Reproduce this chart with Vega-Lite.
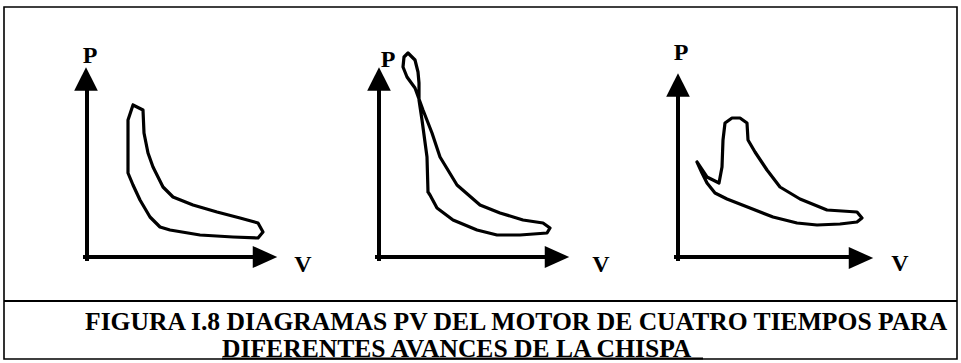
{
  "$schema": "https://vega.github.io/schema/vega-lite/v6.json",
  "width": 961,
  "height": 363,
  "padding": 0,
  "autosize": {"type": "none"},
  "background": "white",
  "config": {"view": {"stroke": null}},
  "datasets": {
    "frame": [{"x": 4, "y": 7, "x2": 957, "y2": 359}],
    "separator": [{"x": 4, "y": 301, "x2": 957, "y2": 301}, {"x": 222, "y": 358.5, "x2": 703, "y2": 358.5}],
    "axes": [
      {"x": 87, "y": 259, "x2": 87, "y2": 82},
      {"x": 85, "y": 257, "x2": 262, "y2": 257},
      {"x": 379, "y": 259, "x2": 379, "y2": 82},
      {"x": 377, "y": 257, "x2": 555, "y2": 257},
      {"x": 678, "y": 259, "x2": 678, "y2": 88},
      {"x": 676, "y": 257, "x2": 860, "y2": 257}
    ],
    "arrowUp": [{"x": 86, "y": 79}, {"x": 379, "y": 79}, {"x": 678, "y": 85}],
    "arrowRight": [{"x": 265, "y": 257}, {"x": 557, "y": 257}, {"x": 861, "y": 258}],
    "cycles": [
      {"panel": 1, "i": 0, "v": 133, "p": 105},
      {"panel": 1, "i": 1, "v": 143, "p": 110},
      {"panel": 1, "i": 2, "v": 144, "p": 133},
      {"panel": 1, "i": 3, "v": 148, "p": 153},
      {"panel": 1, "i": 4, "v": 153, "p": 167},
      {"panel": 1, "i": 5, "v": 163, "p": 187},
      {"panel": 1, "i": 6, "v": 173, "p": 197},
      {"panel": 1, "i": 7, "v": 193, "p": 205},
      {"panel": 1, "i": 8, "v": 217, "p": 212},
      {"panel": 1, "i": 9, "v": 240, "p": 218},
      {"panel": 1, "i": 10, "v": 258, "p": 223},
      {"panel": 1, "i": 11, "v": 263, "p": 232},
      {"panel": 1, "i": 12, "v": 258, "p": 238},
      {"panel": 1, "i": 13, "v": 233, "p": 237},
      {"panel": 1, "i": 14, "v": 200, "p": 235},
      {"panel": 1, "i": 15, "v": 170, "p": 230},
      {"panel": 1, "i": 16, "v": 160, "p": 227},
      {"panel": 1, "i": 17, "v": 150, "p": 217},
      {"panel": 1, "i": 18, "v": 140, "p": 200},
      {"panel": 1, "i": 19, "v": 133, "p": 185},
      {"panel": 1, "i": 20, "v": 128, "p": 173},
      {"panel": 1, "i": 21, "v": 128, "p": 150},
      {"panel": 1, "i": 22, "v": 128, "p": 120},
      {"panel": 1, "i": 23, "v": 133, "p": 105},

      {"panel": 2, "i": 0, "v": 428, "p": 192},
      {"panel": 2, "i": 1, "v": 427, "p": 157},
      {"panel": 2, "i": 2, "v": 422, "p": 120},
      {"panel": 2, "i": 3, "v": 419, "p": 100},
      {"panel": 2, "i": 4, "v": 419, "p": 83},
      {"panel": 2, "i": 5, "v": 418, "p": 72},
      {"panel": 2, "i": 6, "v": 415, "p": 60},
      {"panel": 2, "i": 7, "v": 408, "p": 53},
      {"panel": 2, "i": 8, "v": 404, "p": 57},
      {"panel": 2, "i": 9, "v": 403, "p": 67},
      {"panel": 2, "i": 10, "v": 407, "p": 77},
      {"panel": 2, "i": 11, "v": 415, "p": 88},
      {"panel": 2, "i": 12, "v": 423, "p": 110},
      {"panel": 2, "i": 13, "v": 432, "p": 133},
      {"panel": 2, "i": 14, "v": 440, "p": 157},
      {"panel": 2, "i": 15, "v": 457, "p": 185},
      {"panel": 2, "i": 16, "v": 480, "p": 205},
      {"panel": 2, "i": 17, "v": 500, "p": 213},
      {"panel": 2, "i": 18, "v": 523, "p": 220},
      {"panel": 2, "i": 19, "v": 543, "p": 223},
      {"panel": 2, "i": 20, "v": 550, "p": 228},
      {"panel": 2, "i": 21, "v": 547, "p": 233},
      {"panel": 2, "i": 22, "v": 520, "p": 235},
      {"panel": 2, "i": 23, "v": 497, "p": 235},
      {"panel": 2, "i": 24, "v": 477, "p": 230},
      {"panel": 2, "i": 25, "v": 453, "p": 220},
      {"panel": 2, "i": 26, "v": 437, "p": 208},
      {"panel": 2, "i": 27, "v": 430, "p": 195},
      {"panel": 2, "i": 28, "v": 428, "p": 192},

      {"panel": 3, "i": 0, "v": 697, "p": 162},
      {"panel": 3, "i": 1, "v": 707, "p": 177},
      {"panel": 3, "i": 2, "v": 719, "p": 183},
      {"panel": 3, "i": 3, "v": 722, "p": 167},
      {"panel": 3, "i": 4, "v": 723, "p": 140},
      {"panel": 3, "i": 5, "v": 725, "p": 123},
      {"panel": 3, "i": 6, "v": 732, "p": 118},
      {"panel": 3, "i": 7, "v": 740, "p": 118},
      {"panel": 3, "i": 8, "v": 747, "p": 123},
      {"panel": 3, "i": 9, "v": 748, "p": 140},
      {"panel": 3, "i": 10, "v": 755, "p": 152},
      {"panel": 3, "i": 11, "v": 767, "p": 170},
      {"panel": 3, "i": 12, "v": 780, "p": 187},
      {"panel": 3, "i": 13, "v": 800, "p": 199},
      {"panel": 3, "i": 14, "v": 827, "p": 210},
      {"panel": 3, "i": 15, "v": 857, "p": 212},
      {"panel": 3, "i": 16, "v": 862, "p": 218},
      {"panel": 3, "i": 17, "v": 857, "p": 222},
      {"panel": 3, "i": 18, "v": 840, "p": 224},
      {"panel": 3, "i": 19, "v": 817, "p": 225},
      {"panel": 3, "i": 20, "v": 797, "p": 223},
      {"panel": 3, "i": 21, "v": 773, "p": 217},
      {"panel": 3, "i": 22, "v": 750, "p": 208},
      {"panel": 3, "i": 23, "v": 727, "p": 199},
      {"panel": 3, "i": 24, "v": 715, "p": 193},
      {"panel": 3, "i": 25, "v": 707, "p": 183},
      {"panel": 3, "i": 26, "v": 702, "p": 173},
      {"panel": 3, "i": 27, "v": 697, "p": 162}
    ],
    "labels": [
      {"x": 90, "y": 63, "t": "P"},
      {"x": 303, "y": 272, "t": "V"},
      {"x": 388, "y": 67, "t": "P"},
      {"x": 601, "y": 272, "t": "V"},
      {"x": 681, "y": 60, "t": "P"},
      {"x": 900, "y": 271, "t": "V"}
    ],
    "caption": [
      {"x": 85, "y": 330, "t": "FIGURA I.8 DIAGRAMAS PV DEL MOTOR DE CUATRO TIEMPOS PARA"},
      {"x": 222, "y": 357, "t": "DIFERENTES AVANCES DE LA CHISPA"}
    ]
  },
  "layer": [
    {
      "data": {"name": "frame"},
      "mark": {"type": "rect", "filled": false, "stroke": "black", "strokeWidth": 1.6},
      "encoding": {
        "x": {"field": "x", "type": "quantitative", "scale": {"domain": [0, 961], "nice": false, "zero": false}, "axis": null},
        "y": {"field": "y", "type": "quantitative", "scale": {"domain": [0, 363], "nice": false, "zero": false, "reverse": true}, "axis": null},
        "x2": {"field": "x2"},
        "y2": {"field": "y2"}
      }
    },
    {
      "data": {"name": "separator"},
      "mark": {"type": "rule", "stroke": "black", "strokeWidth": 1.8},
      "encoding": {
        "x": {"field": "x", "type": "quantitative", "scale": {"domain": [0, 961], "nice": false, "zero": false}, "axis": null},
        "y": {"field": "y", "type": "quantitative", "scale": {"domain": [0, 363], "nice": false, "zero": false, "reverse": true}, "axis": null},
        "x2": {"field": "x2"},
        "y2": {"field": "y2"}
      }
    },
    {
      "data": {"name": "axes"},
      "mark": {"type": "rule", "stroke": "black", "strokeWidth": 4, "strokeCap": "square"},
      "encoding": {
        "x": {"field": "x", "type": "quantitative", "scale": {"domain": [0, 961], "nice": false, "zero": false}, "axis": null},
        "y": {"field": "y", "type": "quantitative", "scale": {"domain": [0, 363], "nice": false, "zero": false, "reverse": true}, "axis": null},
        "x2": {"field": "x2"},
        "y2": {"field": "y2"}
      }
    },
    {
      "data": {"name": "arrowUp"},
      "mark": {"type": "point", "shape": "M0,-1L1,1L-1,1Z", "size": 560, "filled": true, "color": "black", "opacity": 1, "strokeWidth": 0},
      "encoding": {
        "x": {"field": "x", "type": "quantitative", "scale": {"domain": [0, 961], "nice": false, "zero": false}, "axis": null},
        "y": {"field": "y", "type": "quantitative", "scale": {"domain": [0, 363], "nice": false, "zero": false, "reverse": true}, "axis": null}
      }
    },
    {
      "data": {"name": "arrowRight"},
      "mark": {"type": "point", "shape": "M1,0L-1,0.9L-1,-0.9Z", "size": 600, "filled": true, "color": "black", "opacity": 1, "strokeWidth": 0},
      "encoding": {
        "x": {"field": "x", "type": "quantitative", "scale": {"domain": [0, 961], "nice": false, "zero": false}, "axis": null},
        "y": {"field": "y", "type": "quantitative", "scale": {"domain": [0, 363], "nice": false, "zero": false, "reverse": true}, "axis": null}
      }
    },
    {
      "data": {"name": "cycles"},
      "mark": {"type": "line", "stroke": "black", "strokeWidth": 3.2, "strokeJoin": "round", "strokeCap": "round"},
      "encoding": {
        "x": {"field": "v", "type": "quantitative", "scale": {"domain": [0, 961], "nice": false, "zero": false}, "axis": null},
        "y": {"field": "p", "type": "quantitative", "scale": {"domain": [0, 363], "nice": false, "zero": false, "reverse": true}, "axis": null},
        "detail": {"field": "panel", "type": "nominal"},
        "order": {"field": "i", "type": "quantitative"}
      }
    },
    {
      "data": {"name": "labels"},
      "mark": {"type": "text", "font": "Liberation Serif, DejaVu Serif, serif", "fontWeight": "bold", "fontSize": 24, "align": "center", "baseline": "alphabetic", "color": "black"},
      "encoding": {
        "x": {"field": "x", "type": "quantitative", "scale": {"domain": [0, 961], "nice": false, "zero": false}, "axis": null},
        "y": {"field": "y", "type": "quantitative", "scale": {"domain": [0, 363], "nice": false, "zero": false, "reverse": true}, "axis": null},
        "text": {"field": "t"}
      }
    },
    {
      "data": {"name": "caption"},
      "mark": {"type": "text", "font": "Liberation Serif, DejaVu Serif, serif", "fontWeight": "bold", "fontSize": 25.6, "align": "left", "baseline": "alphabetic", "color": "black"},
      "encoding": {
        "x": {"field": "x", "type": "quantitative", "scale": {"domain": [0, 961], "nice": false, "zero": false}, "axis": null},
        "y": {"field": "y", "type": "quantitative", "scale": {"domain": [0, 363], "nice": false, "zero": false, "reverse": true}, "axis": null},
        "text": {"field": "t"}
      }
    }
  ]
}
